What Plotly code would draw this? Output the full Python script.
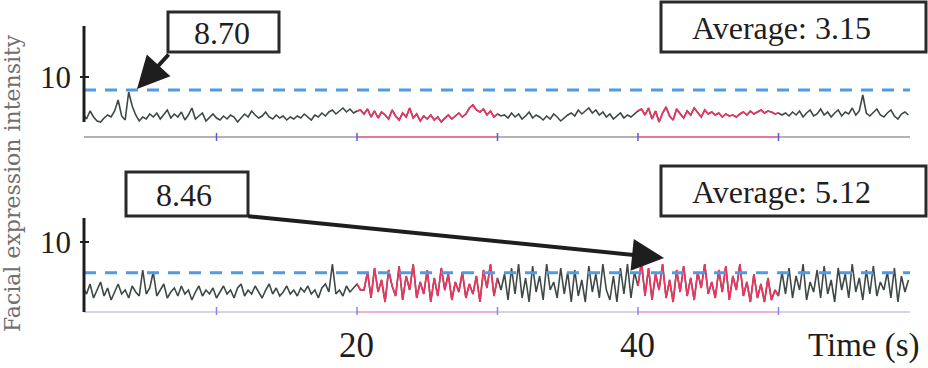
import plotly.graph_objects as go

# ---------------- data ----------------
t_start = 0.5
t_step = 0.25

top_values = [
    6.3, 5.8, 6.6, 6.0, 5.6, 5.5, 5.9, 6.2, 6.0, 6.6, 7.7, 6.1, 5.7, 8.5, 7.1, 6.2, 5.6, 6.0, 5.8, 6.3,
    6.0, 6.4, 5.8, 6.2, 6.7, 5.9, 6.3, 6.0, 6.5, 5.7, 6.2, 6.9, 5.8, 6.1, 6.4, 5.6, 6.0, 6.3, 5.9, 5.7,
    6.1, 5.8, 6.2, 6.0, 5.5, 5.9, 6.3, 6.0, 6.6, 6.2, 5.9, 6.1, 6.5, 6.0, 5.8, 6.2, 5.9, 6.1, 5.7, 6.0,
    5.8, 6.1, 5.9, 6.3, 6.0, 5.7, 6.2, 6.0, 6.4, 6.1, 6.5, 6.7, 6.3, 6.6, 6.9, 6.5, 6.8, 6.4, 6.6, 6.7,
    6.3, 6.8, 6.0, 6.6, 5.9, 6.5, 6.2, 5.8, 6.7, 6.1, 5.7, 6.4, 6.0, 6.9, 5.9, 6.3, 5.6, 6.1, 5.8, 6.2,
    5.7, 6.0, 5.5, 5.9, 6.2, 5.8, 6.1, 6.4, 6.0, 6.3, 6.9, 7.2, 6.7, 6.5, 6.8, 6.2, 6.6, 6.0, 6.3, 6.1,
    6.2, 5.9, 6.4, 6.0, 6.3, 5.8, 6.1, 6.5, 5.9, 6.2, 6.0, 5.7, 6.1, 5.8, 6.3, 6.0, 5.6, 5.9, 6.2, 6.4,
    6.1, 6.7, 6.3, 6.6, 6.9, 6.4, 6.7, 6.2, 6.5, 6.0, 6.3, 5.8, 6.1, 6.4, 5.9, 6.2, 6.0, 6.3, 6.6, 6.8,
    6.2, 6.9, 5.8, 6.6, 5.5, 6.4, 7.0, 6.1, 5.7, 6.8, 6.3, 5.9, 6.6, 6.2, 6.9, 6.4, 6.0, 6.7, 6.3, 6.5,
    6.2, 6.4, 6.0, 6.3, 6.1, 6.2, 6.0, 6.3, 6.5, 6.2, 6.6, 6.3, 6.5, 6.7, 6.4, 6.6, 6.5, 6.3, 6.4, 6.2,
    6.4, 6.1, 6.5, 6.2, 6.6, 6.0, 6.4, 6.7, 6.1, 6.3, 6.8, 6.2, 6.5, 6.0, 6.4, 6.7, 6.1, 6.5, 6.3, 6.9,
    6.2, 6.6, 8.2, 6.4, 6.1, 6.5, 6.8, 6.2, 6.0, 6.4, 6.7, 6.1, 5.8, 6.3, 6.5, 6.2,
]

bottom_values = [
    7.7, 7.4, 7.9, 7.2, 7.6, 8.0, 7.3, 7.7, 7.1, 7.5, 7.9, 7.4, 7.6, 7.2, 7.8, 7.5, 7.3, 8.6, 7.4, 7.7,
    8.5, 7.3, 7.6, 7.9, 7.2, 7.5, 7.7, 7.3, 7.8, 7.4, 7.6, 7.1, 7.5, 7.8, 7.3, 7.6, 7.4, 7.7, 7.2, 7.5,
    7.8, 7.4, 7.6, 7.2, 7.7, 7.9, 7.3, 7.6, 7.4, 7.8, 7.5, 7.2, 7.6, 7.9, 7.4, 7.7, 7.3, 7.5, 7.8, 7.4,
    7.6, 7.3, 7.7, 7.5, 7.8, 7.4, 7.6, 7.2, 7.7, 7.9, 7.5, 8.9, 7.4, 7.6, 7.3, 7.8, 7.5, 7.7, 7.9, 7.6,
    7.6, 8.5, 7.2, 8.7, 7.5, 8.1, 7.0, 8.6, 7.8, 7.3, 8.8, 7.1, 8.3, 7.6, 8.9, 7.2, 8.0, 7.4, 8.6, 7.0,
    8.2, 7.3, 8.7, 7.6, 8.4, 7.1, 8.0, 7.5, 8.5, 7.2, 7.9, 7.4, 8.3, 7.0, 8.6, 7.7, 8.9, 7.3, 8.2, 7.6,
    8.4, 7.1, 8.7, 7.4, 8.9, 7.2, 8.2, 7.0, 8.8, 7.5, 8.3, 7.1, 8.9, 7.6, 8.0, 7.2, 8.7, 7.4, 8.5, 7.0,
    8.6, 7.3, 8.1, 7.0, 8.8, 7.5, 8.4, 7.2, 8.9, 7.6, 7.1, 8.3, 7.0, 8.7, 7.4, 8.9, 7.2, 8.5, 7.8, 9.0,
    7.3, 8.7, 7.1, 8.4, 7.6, 8.9, 7.2, 8.1, 7.0, 8.6, 7.5, 8.8, 7.3, 8.2, 7.1, 8.5, 7.7, 8.9, 7.4, 8.0,
    7.2, 8.6, 7.5, 8.8, 7.1, 8.3, 7.6, 8.9, 7.3, 8.0, 7.0, 8.4, 7.2, 7.9, 7.0, 8.2, 7.1, 7.6, 7.3, 8.5,
    7.4, 8.7, 7.2, 8.3, 7.6, 8.9, 7.1, 8.0, 7.5, 8.6, 7.2, 8.8, 7.4, 8.1, 7.0, 8.7, 7.6, 8.4, 7.2, 8.9,
    7.5, 8.2, 7.1, 8.6, 7.4, 8.8, 7.3, 8.0, 7.6, 8.5, 7.2, 8.7, 7.0, 8.3, 7.5, 8.1,
]

highlight_windows = [(20, 30), (40, 50)]
axis_ticks = [10, 20, 30, 40, 50]
x_tick_labels = ["20", "40"]
x_tick_values = [20, 40]
peak_labels = ["8.70", "8.46"]
peak_values = [8.70, 8.46]
average_labels = ["Average: 3.15", "Average: 5.12"]
y_tick_value = 10

# ---------------- figure ----------------
W, H = 928, 368
GRAY = "#3e4845"
RED = "#f2335f"
BLUE = "#4f9be6"
SERIF = "Times New Roman, Liberation Serif, serif"

def px(x):
    return x / W

def py(y):
    return 1 - y / H

times_top = [t_start + t_step * i for i in range(len(top_values))]
times_bot = [t_start + t_step * i for i in range(len(bottom_values))]

fig = go.Figure()

def add_series(times, values, xa, ya):
    fig.add_trace(go.Scatter(x=times, y=values, mode="lines", xaxis=xa, yaxis=ya,
                             line=dict(color=GRAY, width=1.6), hoverinfo="skip", showlegend=False))
    for a, b in highlight_windows:
        xs = [t for t in times if a <= t <= b]
        ys = [v for t, v in zip(times, values) if a <= t <= b]
        fig.add_trace(go.Scatter(x=xs, y=ys, mode="lines", xaxis=xa, yaxis=ya,
                                 line=dict(color=RED, width=1.6), hoverinfo="skip", showlegend=False))

add_series(times_top, top_values, "x", "y")
add_series(times_bot, bottom_values, "x2", "y2")

x_range = [0.57, 59.36]
x_dom = [px(84), px(910)]
fig.update_layout(
    width=W, height=H,
    margin=dict(l=0, r=0, t=0, b=0),
    paper_bgcolor="white", plot_bgcolor="white",
    xaxis=dict(domain=x_dom, range=x_range, visible=False, anchor="y"),
    yaxis=dict(domain=[py(140), py(26)], range=[3.7, 15.1], visible=False, anchor="x"),
    xaxis2=dict(domain=x_dom, range=x_range, visible=False, anchor="y2"),
    yaxis2=dict(domain=[py(316), py(216)], range=[6.3, 11.3], visible=False, anchor="x2"),
    showlegend=False,
)

shapes = []
annotations = []

tick_y = [137, 311]
panels = [
    ("x", "y", 15.1, 5.5, 4.0, "#9a9a9a", "#f06a95", "#5a5ae6"),
    ("x2", "y2", 11.2, 6.5, 6.5, "#cbc6dc", "#f3a9c9", "#8a86e6"),
]
for i, (xr, yr, ytop, ybot, base, bcol, hcol, tcol) in enumerate(panels):
    shapes.append(dict(type="line", xref=xr, yref=yr, x0=x_range[0], x1=x_range[1], y0=base, y1=base,
                       line=dict(color=bcol, width=1.5)))
    for a, b in highlight_windows:
        shapes.append(dict(type="line", xref=xr, yref=yr, x0=a, x1=b, y0=base, y1=base,
                           line=dict(color=hcol, width=1.5)))
    for tk in axis_ticks:
        shapes.append(dict(type="line", xref=xr, yref="paper", x0=tk, x1=tk,
                           y0=py(tick_y[i] + 4), y1=py(tick_y[i] - 4), line=dict(color=tcol, width=1.5)))
    shapes.append(dict(type="line", xref=xr, yref=yr, x0=x_range[0], x1=x_range[1],
                       y0=peak_values[i], y1=peak_values[i],
                       line=dict(color=BLUE, width=3, dash="12px,9px")))
    shapes.append(dict(type="line", xref="paper", yref=yr, x0=px(84), x1=px(84), y0=ybot, y1=ytop,
                       line=dict(color="#1e1e1e", width=3)))
    shapes.append(dict(type="line", xref="paper", yref=yr, x0=px(80), x1=px(89),
                       y0=y_tick_value, y1=y_tick_value, line=dict(color="#1e1e1e", width=2)))
    annotations.append(dict(xref="paper", yref=yr, x=px(73), y=y_tick_value, text=str(y_tick_value),
                            showarrow=False, xanchor="right", yanchor="middle",
                            font=dict(family=SERIF, size=31, color="#1e1e1e")))

boxes = [
    (168, 12, 279, 52, peak_labels[0], 222),
    (661, 2, 926, 52, average_labels[0], 781),
    (126, 172, 248, 216, peak_labels[1], 184),
    (661, 166, 926, 216, average_labels[1], 781),
]
for x0, y0, x1, y1, txt, cx in boxes:
    shapes.append(dict(type="rect", xref="paper", yref="paper", x0=px(x0), x1=px(x1), y0=py(y1), y1=py(y0),
                       line=dict(color="#2a2a2a", width=3), fillcolor="white", layer="above"))
    annotations.append(dict(xref="paper", yref="paper", x=px(cx), y=py((y0 + y1) / 2 + 1),
                            text=txt, showarrow=False, xanchor="center", yanchor="middle",
                            font=dict(family=SERIF, size=32, color="#1e1e1e")))

arrows = [((137, 89), (170, 53)), ((664, 258), (247, 216))]
for (hx, hy), (tx, ty) in arrows:
    annotations.append(dict(xref="paper", yref="paper", x=px(hx), y=py(hy), text="",
                            showarrow=True, ax=tx - hx, ay=ty - hy, axref="pixel", ayref="pixel",
                            arrowhead=2, arrowsize=1.6, arrowwidth=4, arrowcolor="#1e1e1e",
                            standoff=0, startstandoff=0))

for v, lab in zip(x_tick_values, x_tick_labels):
    annotations.append(dict(xref="x2", yref="paper", x=v, y=py(345), text=lab, showarrow=False,
                            xanchor="center", yanchor="middle",
                            font=dict(family=SERIF, size=35, color="#1e1e1e")))
annotations.append(dict(xref="paper", yref="paper", x=px(864), y=py(345), text="Time (s)", showarrow=False,
                        xanchor="center", yanchor="middle",
                        font=dict(family=SERIF, size=33, color="#1e1e1e")))

annotations.append(dict(xref="paper", yref="paper", x=px(13), y=py(183), text="Facial expression intensity",
                        showarrow=False, textangle=-90, xanchor="center", yanchor="middle",
                        font=dict(family="DejaVu Serif", size=22, color="#707070")))

fig.update_layout(shapes=shapes, annotations=annotations)
fig.write_html("out.html", config={"displayModeBar": False},
               post_script="document.body.style.margin='0';document.body.style.overflow='hidden';")
